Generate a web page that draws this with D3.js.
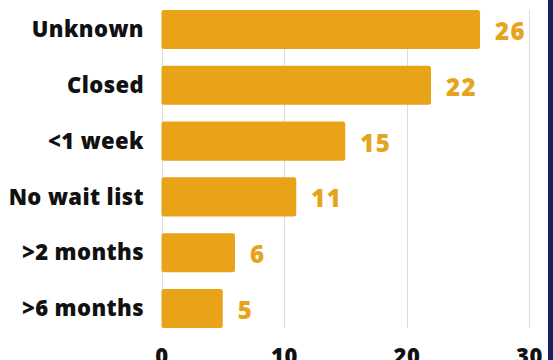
<!DOCTYPE html>
<html>
<head>
<meta charset="utf-8">
<script src="https://cdn.jsdelivr.net/npm/d3@7"></script>
<style>
  html, body { margin: 0; padding: 0; background: #ffffff; }
  svg { display: block; }
</style>
</head>
<body>
<svg id="chart" width="553" height="360"></svg>
<script>
// Wait-list status counts
const categories = ["Unknown", "Closed", "<1 week", "No wait list", ">2 months", ">6 months"];
const values = [26, 22, 15, 11, 6, 5];
const tickValues = [0, 10, 20, 30];

const W = 553, H = 360;
const barColor = "#E9A319";
const labelColor = "#E6A41E";
const fontFamily = "'Open Sans', Lato, sans-serif";

const svg = d3.select("#chart");

svg.append("rect").attr("width", W).attr("height", H).attr("fill", "#ffffff");

const x = d3.scaleLinear().domain([0, 30]).range([161.5, 529]);
const y = d3.scaleBand().domain(categories).range([10, 328]).paddingInner(0.3).paddingOuter(0);

// vertical gridlines
svg.append("g")
  .selectAll("line")
  .data(tickValues)
  .join("line")
  .attr("x1", d => Math.round(x(d)) + 0.5)
  .attr("x2", d => Math.round(x(d)) + 0.5)
  .attr("y1", 10)
  .attr("y2", 328)
  .attr("stroke", "#dcdcdc")
  .attr("stroke-width", 1);

// bars
svg.append("g")
  .selectAll("rect")
  .data(values)
  .join("rect")
  .attr("x", x(0))
  .attr("y", (d, i) => y(categories[i]))
  .attr("width", d => x(d) - x(0))
  .attr("height", y.bandwidth())
  .attr("rx", 2.5)
  .attr("fill", barColor);

// category labels
svg.append("g")
  .selectAll("text")
  .data(categories)
  .join("text")
  .attr("x", 144)
  .attr("y", d => y(d) + y.bandwidth() / 2)
  .attr("dy", "0.35em")
  .attr("text-anchor", "end")
  .attr("font-family", fontFamily)
  .attr("font-weight", 800)
  .attr("font-size", 22)
  .attr("letter-spacing", 0.4)
  .attr("fill", "#111111")
  .text(d => d);

// value labels
svg.append("g")
  .selectAll("text")
  .data(values)
  .join("text")
  .attr("x", d => x(d) + 15)
  .attr("y", (d, i) => y(categories[i]) + y.bandwidth() / 2 + 2)
  .attr("dy", "0.35em")
  .attr("text-anchor", "start")
  .attr("font-family", fontFamily)
  .attr("font-weight", 800)
  .attr("font-size", 24)
  .attr("letter-spacing", 1.5)
  .attr("fill", labelColor)
  .text(d => d);

// x axis tick labels
const xAxis = d3.axisBottom(x).tickValues(tickValues).tickSize(0).tickPadding(0);
const gx = svg.append("g").attr("transform", "translate(0,348)").call(xAxis);
gx.select(".domain").remove();
gx.selectAll("text")
  .attr("dy", "0.72em")
  .attr("font-family", fontFamily)
  .attr("font-weight", 800)
  .attr("font-size", 22)
  .attr("letter-spacing", 0.5)
  .attr("fill", "#111111");

// right edge band
svg.append("rect")
  .attr("x", 548).attr("y", 0)
  .attr("width", 5).attr("height", H)
  .attr("fill", "#1b1f5c");
</script>
</body>
</html>
